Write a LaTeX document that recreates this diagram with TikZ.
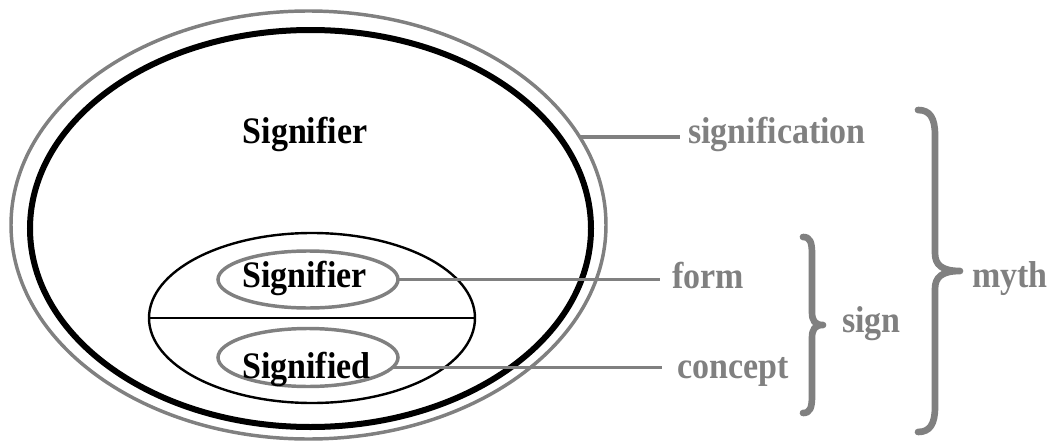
\documentclass[tikz,border=0pt]{standalone}
\usepackage{fontspec}
\setmainfont{Liberation Serif}
\usetikzlibrary{shapes.geometric}
\definecolor{mgray}{RGB}{128,128,128}
\newcommand{\tall}[1]{\scalebox{1}[1.1]{#1}}
\tikzset{
  oval/.style={ellipse, inner sep=0pt, outer sep=0pt},
  ringgray/.style={oval, draw=mgray, line width=2.6pt},
  term/.style={inner sep=0pt, font=\fontsize{25.5}{30}\selectfont\bfseries, text=black},
  gloss/.style={inner sep=0pt, font=\fontsize{25.5}{30}\selectfont\bfseries, text=mgray},
  link/.style={draw=mgray, line width=2.4pt},
  bracket/.style={draw=mgray, line width=5pt, line cap=round, line join=round},
}
\begin{document}
\begin{tikzpicture}[x=0.75pt, y=-0.75pt]
\useasboundingbox (0,0) rectangle (1054,446);

% nested ovals
\node[ringgray, minimum width=446.25pt, minimum height=321pt] (outer) at (308.5,225) {};
\node[oval, draw=black, line width=4.5pt, minimum width=420.75pt, minimum height=297.75pt] (inner) at (310.5,228.5) {};
\node[oval, draw=black, line width=1.8pt, minimum width=244.5pt, minimum height=127.5pt] (sign) at (312,318) {};
\draw[black, line width=1.8pt] (sign.west) -- (sign.east);
\node[ringgray, minimum width=135pt, minimum height=42.75pt] (form) at (308,279.5) {};
\node[ringgray, minimum width=135pt, minimum height=43.5pt] (concept) at (308,357.5) {};

% terms
\node[term, anchor=base] (sigtop) at (305,143) {\tall{Signifier}};
\node[term, anchor=base west] (sigform) at (242,287) {\tall{Signifier}};
\node[term, anchor=base west] (sigconc) at (242,378) {\tall{Signified}};

% glosses
\node[gloss, anchor=base west] (lsignif) at (688,143) {\tall{signification}};
\node[gloss, anchor=base west] (lform) at (672,288) {\tall{form}};
\node[gloss, anchor=base west] (lconcept) at (677,378) {\tall{concept}};
\node[gloss, anchor=base west] (lsign) at (842,332) {\tall{sign}};
\node[gloss, anchor=base west] (lmyth) at (972,287) {\tall{myth}};

% connector ends
\coordinate (sEnd) at (680,0);
\coordinate (fEnd) at (660,0);
\coordinate (cEnd) at (662,0);
\draw[link] (outer.18.9) -- (outer.18.9 -| sEnd);
\draw[link] (form.east) -- (form.east -| fEnd);
\draw[link] (concept.-7) -- (concept.-7 -| cEnd);

% braces
\draw[bracket] (803,237) .. controls (810,237) and (812,242) .. (812,254)
  -- (812,312) .. controls (812,321) and (815,325) .. (823,325)
  .. controls (815,325) and (812,329) .. (812,338)
  -- (812,396) .. controls (812,408) and (810,413) .. (803,413);
\draw[bracket] (918,110) .. controls (930,110) and (935,118) .. (935,135)
  -- (935,253) .. controls (935,265) and (942,271) .. (960,271)
  .. controls (942,271) and (935,277) .. (935,289)
  -- (935,407) .. controls (935,424) and (930,432) .. (918,432);
\end{tikzpicture}
\end{document}
